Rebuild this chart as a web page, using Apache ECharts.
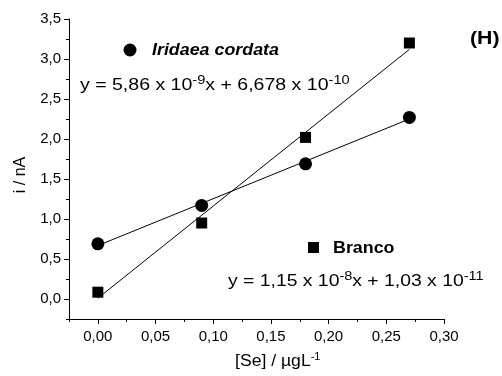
<!DOCTYPE html>
<html><head><meta charset="utf-8">
<script src="https://cdn.jsdelivr.net/npm/echarts@6/dist/echarts.min.js"></script>
<style>html,body{margin:0;padding:0;background:#fff}#c{width:502px;height:376px}</style>
</head><body><div id="c"></div>
<script>
// Data
const seConc = [0.00, 0.09, 0.18, 0.27];
const iridaea = [0.69, 1.17, 1.69, 2.27];
const branco = [0.085, 0.95, 2.02, 3.20];
// fit-line endpoints
const iridaeaFit = [[0.00, 0.668], [0.27, 2.25]];
const brancoFit = [[0.00, 0.01], [0.27, 3.12]];
// major tick positions (labels)
const xMajor = [0, 0.05, 0.10, 0.15, 0.20, 0.25, 0.30];
const yMajor = [0, 0.5, 1.0, 1.5, 2.0, 2.5, 3.0, 3.5];

const FONT = '"Liberation Sans", Arial, sans-serif';
const chart = echarts.init(document.getElementById('c'));
const isMajor = (v, step) => Math.abs(v / step - Math.round(v / step)) < 1e-6;
const fmtX = v => isMajor(v, 0.05) ? v.toFixed(2).replace('.', ',') : '';
const fmtY = v => isMajor(v, 0.5) ? v.toFixed(1).replace('.', ',') : '';
const grid = {left: 69, right: 58, top: 19, bottom: 57};
const n16 = {font: '16px ' + FONT, color: '#000'};
const s12 = {font: '12px ' + FONT, color: '#000', padding: [0, 0, 10, 0]};
chart.setOption({
  animation: false,
  backgroundColor: '#fff',
  grid: grid,
  xAxis: [{
    type: 'value', min: -0.025, max: 0.30, interval: 0.025,
    axisLine: {show: true, onZero: false, lineStyle: {color: '#000', width: 1}},
    splitLine: {show: false},
    axisTick: {show: true, inside: false, length: 3, lineStyle: {color: '#000'}},
    axisLabel: {show: true, formatter: fmtX, color: '#000', fontSize: 15, fontFamily: FONT, margin: 10, showMinLabel: true, showMaxLabel: true, hideOverlap: false}
  }, {
    type: 'value', min: -0.025, max: 0.30, position: 'bottom',
    axisLine: {show: false, onZero: false}, splitLine: {show: false},
    axisTick: {show: true, inside: false, length: 5, customValues: xMajor, lineStyle: {color: '#000'}},
    axisLabel: {show: false}
  }],
  yAxis: [{
    type: 'value', min: -0.25, max: 3.5, interval: 0.25,
    axisLine: {show: true, onZero: false, lineStyle: {color: '#000', width: 1}},
    splitLine: {show: false},
    axisTick: {show: true, inside: false, length: 3, lineStyle: {color: '#000'}},
    axisLabel: {show: true, formatter: fmtY, color: '#000', fontSize: 15, fontFamily: FONT, margin: 8, showMinLabel: true, showMaxLabel: true, hideOverlap: false}
  }, {
    type: 'value', min: -0.25, max: 3.5, position: 'left',
    axisLine: {show: false, onZero: false}, splitLine: {show: false},
    axisTick: {show: true, inside: false, length: 5, customValues: yMajor, lineStyle: {color: '#000'}},
    axisLabel: {show: false}
  }],
  series: [
    {type: 'line', data: iridaeaFit, symbol: 'none', lineStyle: {color: '#000', width: 1}, silent: true},
    {type: 'line', data: brancoFit, symbol: 'none', lineStyle: {color: '#000', width: 1}, silent: true},
    {name: 'Iridaea cordata', type: 'scatter', data: seConc.map((x, i) => [x, iridaea[i]]),
     symbol: 'circle', symbolSize: 13, itemStyle: {color: '#000', opacity: 1}},
    {name: 'Branco', type: 'scatter', data: seConc.map((x, i) => [x, branco[i]]),
     symbol: 'rect', symbolSize: 11, itemStyle: {color: '#000', opacity: 1}}
  ],
  graphic: [
    {type: 'circle', shape: {cx: 130, cy: 50, r: 6.5}, style: {fill: '#000'}},
    {type: 'text', x: 152, y: 50, scaleX: 1.05, style: {text: 'Iridaea cordata', font: 'italic bold 17px ' + FONT, fill: '#000', verticalAlign: 'middle'}},
    {type: 'text', x: 80, y: 86, scaleX: 1.22, style: {
      text: '{n|y = 5,86 x 10}{s|-9}{n|x + 6,678 x 10}{s|-10}', rich: {n: n16, s: s12}, verticalAlign: 'middle'}},
    {type: 'rect', shape: {x: 308, y: 242, width: 11, height: 11}, style: {fill: '#000'}},
    {type: 'text', x: 333, y: 248, scaleX: 1.05, style: {text: 'Branco', font: 'bold 17px ' + FONT, fill: '#000', verticalAlign: 'middle'}},
    {type: 'text', x: 228, y: 282, scaleX: 1.21, style: {
      text: '{n|y = 1,15 x 10}{s|-8}{n|x + 1,03 x 10}{s|-11}', rich: {n: n16, s: s12}, verticalAlign: 'middle'}},
    {type: 'text', x: 470, y: 39, scaleX: 1.12, style: {text: '(H)', font: 'bold 19px ' + FONT, fill: '#000', verticalAlign: 'middle'}},
    {type: 'text', x: 21, y: 175, rotation: Math.PI / 2, style: {text: 'i / nA', font: '16px ' + FONT, fill: '#000', align: 'center', verticalAlign: 'middle'}},
    {type: 'text', x: 235, y: 362, scaleX: 1.1, style: {
      text: '{n|[Se] / µgL}{s|-1}', rich: {n: n16, s: {font: '10px ' + FONT, color: '#000', padding: [0, 0, 9, 0]}}, verticalAlign: 'middle'}}
  ]
});
</script></body></html>
